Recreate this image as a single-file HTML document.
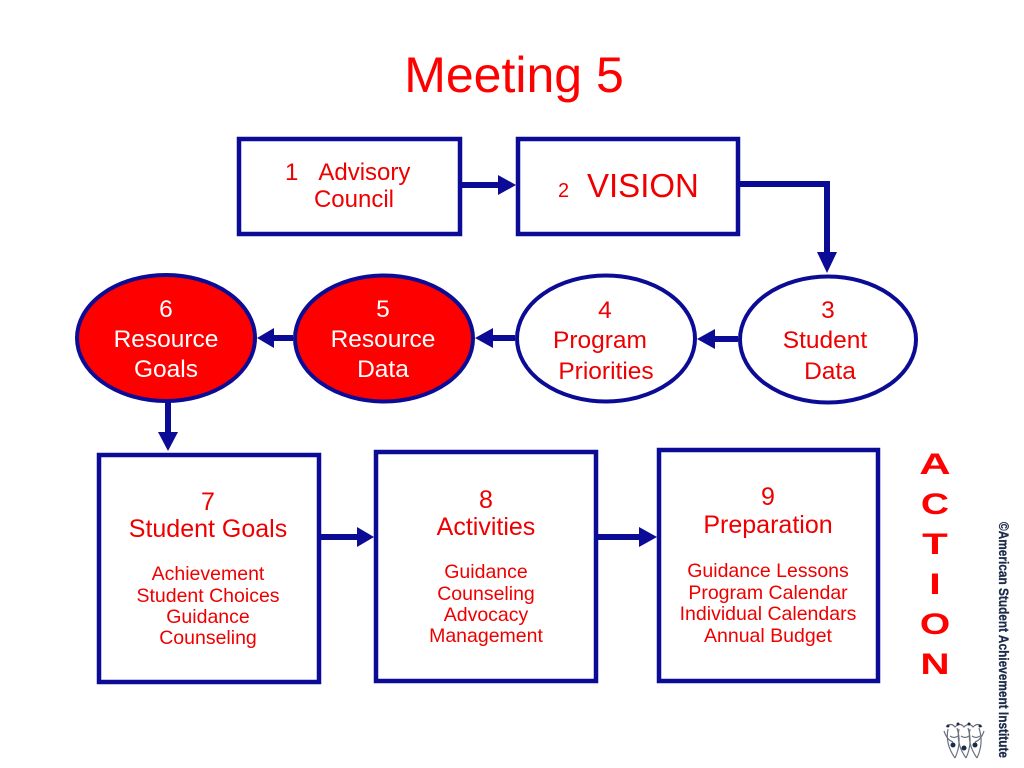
<!DOCTYPE html>
<html>
<head>
<meta charset="utf-8">
<style>
html,body{margin:0;padding:0;background:#fff;}
svg{display:block;}
text{font-family:"Liberation Sans",Arial,sans-serif;}
</style>
</head>
<body>
<svg width="1024" height="768" viewBox="0 0 1024 768" xmlns="http://www.w3.org/2000/svg">
<rect width="1024" height="768" fill="#fff"/>

<!-- Title -->
<text x="514" y="92" font-size="50" fill="#ff0000" text-anchor="middle">Meeting 5</text>

<g fill="none" stroke="#0b0b96" stroke-width="4.5">
  <rect x="239" y="139" width="221" height="95"/>
  <rect x="518" y="139" width="220" height="95"/>
  <rect x="99" y="455" width="220" height="227"/>
  <rect x="376" y="452" width="220" height="229"/>
  <rect x="659" y="450" width="219" height="231"/>
</g>

<!-- Ellipses -->
<g stroke="#0b0b96" stroke-width="4">
  <ellipse cx="166" cy="338" rx="89" ry="63" fill="#ff0000"/>
  <ellipse cx="384" cy="338.5" rx="89" ry="63" fill="#ff0000"/>
  <ellipse cx="606" cy="338.5" rx="89" ry="63" fill="#fff"/>
  <ellipse cx="828" cy="339.5" rx="88" ry="63" fill="#fff"/>
</g>

<!-- Connectors -->
<g stroke="#0b0b96" stroke-width="6" fill="none">
  <line x1="462" y1="185" x2="500" y2="185"/>
  <polyline points="740,184 827,184 827,254"/>
  <line x1="738" y1="339" x2="712" y2="339"/>
  <line x1="515" y1="338" x2="490" y2="338"/>
  <line x1="293" y1="338" x2="271" y2="338"/>
  <line x1="168" y1="402" x2="168" y2="434"/>
  <line x1="321" y1="537" x2="359" y2="537"/>
  <line x1="598" y1="537" x2="640" y2="537"/>
</g>
<g fill="#0b0b96">
  <polygon points="498,175 516,185 498,195"/>
  <polygon points="817,252 827,273 837,252"/>
  <polygon points="715,329 697,339 715,349"/>
  <polygon points="493,328 475,338 493,348"/>
  <polygon points="274,328 257,338 274,348"/>
  <polygon points="158,432 168,451 178,432"/>
  <polygon points="357,527 374,537 357,547"/>
  <polygon points="639,527 657,537 639,547"/>
</g>

<!-- Box 1 -->
<text x="285" y="180" font-size="24" fill="#ee0000">1&#160;&#160;&#160;Advisory</text>
<text x="354" y="207" font-size="24" fill="#ee0000" text-anchor="middle">Council</text>

<!-- Box 2 -->
<text x="558" y="197" font-size="20" fill="#ee0000">2</text>
<text x="587" y="197" font-size="33" fill="#ee0000">VISION</text>

<!-- Ellipse 3 -->
<g font-size="24.5" fill="#ee0000" text-anchor="middle">
  <text x="828" y="318">3</text>
  <text x="825" y="348">Student</text>
  <text x="830" y="379">Data</text>
</g>
<!-- Ellipse 4 -->
<g font-size="24.5" fill="#ee0000" text-anchor="middle">
  <text x="605" y="318">4</text>
  <text x="600" y="348">Program</text>
  <text x="606" y="379">Priorities</text>
</g>
<!-- Ellipse 5 -->
<g font-size="24.5" fill="#fff" text-anchor="middle">
  <text x="383" y="317">5</text>
  <text x="383" y="347">Resource</text>
  <text x="383" y="377">Data</text>
</g>
<!-- Ellipse 6 -->
<g font-size="24.5" fill="#fff" text-anchor="middle">
  <text x="166" y="317">6</text>
  <text x="166" y="347">Resource</text>
  <text x="166" y="377">Goals</text>
</g>

<!-- Box 7 -->
<g fill="#ee0000" text-anchor="middle">
  <text x="208" y="510" font-size="25">7</text>
  <text x="208" y="537" font-size="25">Student Goals</text>
  <text x="208" y="580" font-size="19.5">Achievement</text>
  <text x="208" y="602" font-size="19.5">Student Choices</text>
  <text x="208" y="623" font-size="19.5">Guidance</text>
  <text x="208" y="644" font-size="19.5">Counseling</text>
</g>
<!-- Box 8 -->
<g fill="#ee0000" text-anchor="middle">
  <text x="486" y="508" font-size="25">8</text>
  <text x="486" y="535" font-size="25">Activities</text>
  <text x="486" y="578" font-size="19.5">Guidance</text>
  <text x="486" y="600" font-size="19.5">Counseling</text>
  <text x="486" y="621" font-size="19.5">Advocacy</text>
  <text x="486" y="642" font-size="19.5">Management</text>
</g>
<!-- Box 9 -->
<g fill="#ee0000" text-anchor="middle">
  <text x="768" y="505" font-size="25">9</text>
  <text x="768" y="533" font-size="25">Preparation</text>
  <text x="768" y="577" font-size="19.5">Guidance Lessons</text>
  <text x="768" y="599" font-size="19.5">Program Calendar</text>
  <text x="768" y="620" font-size="19.5">Individual Calendars</text>
  <text x="768" y="642" font-size="19.5">Annual Budget</text>
</g>

<!-- ACTION -->
<g fill="#ff0000" font-size="30" font-weight="bold" text-anchor="middle">
  <text transform="translate(935,474) scale(1.45,1)">A</text>
  <text transform="translate(935,514) scale(1.3,1)">C</text>
  <text transform="translate(935,554) scale(1.4,1)">T</text>
  <text transform="translate(935,594) scale(1.4,1)">I</text>
  <text transform="translate(935,634) scale(1.3,1)">O</text>
  <text transform="translate(935,674) scale(1.35,1)">N</text>
</g>

<!-- Copyright vertical -->
<text transform="translate(999,522) rotate(90)" font-size="14" font-weight="bold" fill="#1b2a48" stroke="#1b2a48" stroke-width="0.3" textLength="236" lengthAdjust="spacingAndGlyphs">©American Student Achievement Institute</text>

<!-- Logo -->
<g fill="none" stroke="#6a7280" stroke-width="1.2">
  <path d="M946,727 q5,-5 9,0 q5,-5 9,0 q5,-5 9,0 q5,-5 9,0"/>
  <path d="M948,729 q-3,15 7,29"/>
  <path d="M957,728 q5,15 -2,30"/>
  <path d="M959,729 q-3,15 7,29"/>
  <path d="M968,728 q5,15 -2,30"/>
  <path d="M970,729 q-3,15 7,29"/>
  <path d="M979,728 q5,15 -2,30"/>
  <path d="M944,731 q3,9 9,11"/>
  <path d="M984,731 q-3,9 -9,11"/>
  <path d="M950,736 q4,3 8,0"/>
  <path d="M961,736 q4,3 8,0"/>
  <path d="M972,736 q4,3 8,0"/>
</g>
<g fill="#1b2a48">
  <circle cx="953" cy="745" r="2.5"/>
  <circle cx="964" cy="748" r="2.5"/>
  <circle cx="975" cy="745" r="2.5"/>
  <circle cx="948" cy="726" r="1.5"/>
  <circle cx="958" cy="724" r="1.5"/>
  <circle cx="969" cy="724" r="1.5"/>
  <circle cx="980" cy="726" r="1.5"/>
</g>
</svg>
</body>
</html>
